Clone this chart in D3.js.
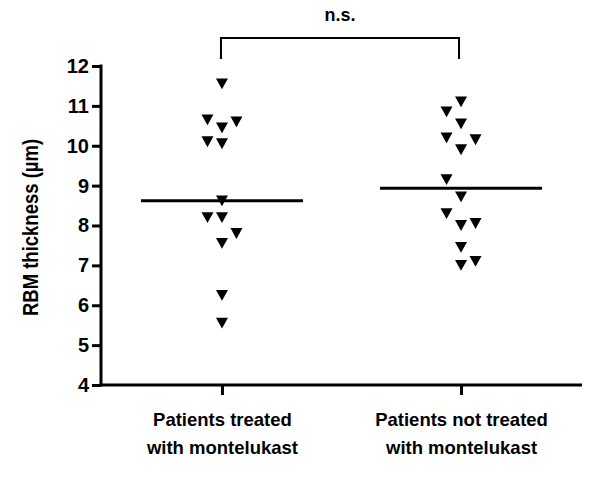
<!DOCTYPE html>
<html>
<head>
<meta charset="utf-8">
<script src="https://cdn.jsdelivr.net/npm/d3@7"></script>
<style>
  body { margin: 0; background: #fff; }
  svg { display: block; font-family: "Liberation Sans", Arial, sans-serif; }
</style>
</head>
<body>
<div class="chart"></div>
<script>
var margin = {top: 66, right: 18, bottom: 97, left: 101};
var width = 600 - margin.left - margin.right;
var height = 482 - margin.top - margin.bottom;

// categories and their two-line labels
let groups = ['treated', 'notTreated'];
let groupLabels = [
  ['Patients treated', 'with montelukast'],
  ['Patients not treated', 'with montelukast']
];

// RBM thickness per patient (µm), and the column each marker sits in (-1, 0, 1)
let treatedValues = [11.55, 10.65, 10.6, 10.45, 10.1, 10.05, 8.62, 8.2, 8.2, 7.8, 7.55, 6.25, 5.55];
let treatedCols   = [0, -1, 1, 0, -1, 0, 0, -1, 0, 1, 0, 0, 0];
let notTreatedValues = [11.1, 10.85, 10.55, 10.2, 10.15, 9.9, 9.15, 8.72, 8.3, 8.0, 8.05, 7.45, 7.0, 7.1];
let notTreatedCols   = [0, -1, 0, -1, 1, 0, -1, 0, -1, 0, 1, 0, 0, 1];

let yTicks = [4, 5, 6, 7, 8, 9, 10, 11, 12];
let yLimits = [4, 12];

let data = [];
treatedValues.forEach((v, i) => data.push({group: 'treated', value: v, col: treatedCols[i]}));
notTreatedValues.forEach((v, i) => data.push({group: 'notTreated', value: v, col: notTreatedCols[i]}));

let svg = d3.select('.chart')
  .append('svg')
  .attr('width', width + margin.left + margin.right)
  .attr('height', height + margin.top + margin.bottom)
  .append('g')
  .attr('transform', `translate(${margin.left}, ${margin.top})`)
;

//scales
let yScale = d3.scaleLinear()
  .domain(yLimits)
  .range([height, 0]);

let xScale = d3.scalePoint()
  .domain(groups)
  .range([0, width])
  .padding(0.506);

let colStep = 14.5;

// y axis
let yAxis = d3.axisLeft(yScale)
  .tickValues(yTicks)
  .tickSize(9)
  .tickPadding(3)
  .tickSizeOuter(0);

let yG = svg.append('g').call(yAxis);
yG.select('.domain').attr('stroke-width', 3).attr('d', `M0,-1.5V${height + 1.5}`);
yG.selectAll('.tick line').attr('stroke-width', 3);
yG.selectAll('.tick text')
  .style('font-size', '20px')
  .style('font-weight', 'bold')
  .attr('fill', '#000');

// x axis
let xAxis = d3.axisBottom(xScale)
  .tickSize(10)
  .tickSizeOuter(0)
  .tickFormat('');

let xG = svg.append('g')
  .attr('transform', `translate(0, ${height})`)
  .call(xAxis);
xG.select('.domain').attr('stroke-width', 3).attr('d', `M-1.5,0H${width}`);
xG.selectAll('.tick line').attr('stroke-width', 3);

xG.selectAll('.tick')
  .append('text')
  .attr('fill', '#000')
  .style('font-size', '18.5px')
  .style('font-weight', 'bold')
  .style('text-anchor', 'middle')
  .selectAll('tspan')
  .data((d, i) => groupLabels[i])
  .enter()
  .append('tspan')
  .attr('x', 0)
  .attr('y', (d, i) => 41 + i * 28)
  .text(d => d);

// axis title (glyphs a little wider, as in the original)
svg.append('text')
  .attr('transform', `translate(${-63}, ${height / 2 + 2}) scale(1.2, 1) rotate(-90)`)
  .style('text-anchor', 'middle')
  .style('font-size', '18.5px')
  .style('font-weight', 'bold')
  .attr('fill', '#000')
  .text('RBM thickness (µm)');

// downward triangle, centred on its bounding box
let triDown = {
  draw: function(context, size) {
    let w = Math.sqrt(size), h = w * 0.9;
    context.moveTo(-w / 2, -h / 2);
    context.lineTo(w / 2, -h / 2);
    context.lineTo(0, h / 2);
    context.closePath();
  }
};

svg.selectAll('.pt')
  .data(data)
  .enter()
  .append('path')
  .attr('class', 'pt')
  .attr('d', d3.symbol().type(triDown).size(144))
  .attr('transform', d => `translate(${xScale(d.group) + d.col * colStep}, ${yScale(d.value)})`)
  .attr('fill', '#000');

// median lines
let medians = groups.map(g => ({group: g, value: d3.median(data.filter(d => d.group === g), d => d.value)}));
svg.selectAll('.median')
  .data(medians)
  .enter()
  .append('line')
  .attr('class', 'median')
  .attr('x1', d => xScale(d.group) - 81)
  .attr('x2', d => xScale(d.group) + 81)
  .attr('y1', d => yScale(d.value))
  .attr('y2', d => yScale(d.value))
  .attr('stroke', '#000')
  .attr('stroke-width', 3);

// significance bracket
let bracketY = -28, bracketDrop = 21;
let bx1 = xScale('treated') - 1, bx2 = xScale('notTreated') - 2;
svg.append('path')
  .attr('d', `M${bx1},${bracketY + bracketDrop}V${bracketY}H${bx2}V${bracketY + bracketDrop}`)
  .attr('fill', 'none')
  .attr('stroke', '#000')
  .attr('stroke-width', 2);

svg.append('text')
  .attr('x', (bx1 + bx2) / 2)
  .attr('y', bracketY - 17)
  .style('text-anchor', 'middle')
  .style('font-size', '18px')
  .style('font-weight', 'bold')
  .attr('fill', '#000')
  .text('n.s.');
</script>
</body>
</html>
